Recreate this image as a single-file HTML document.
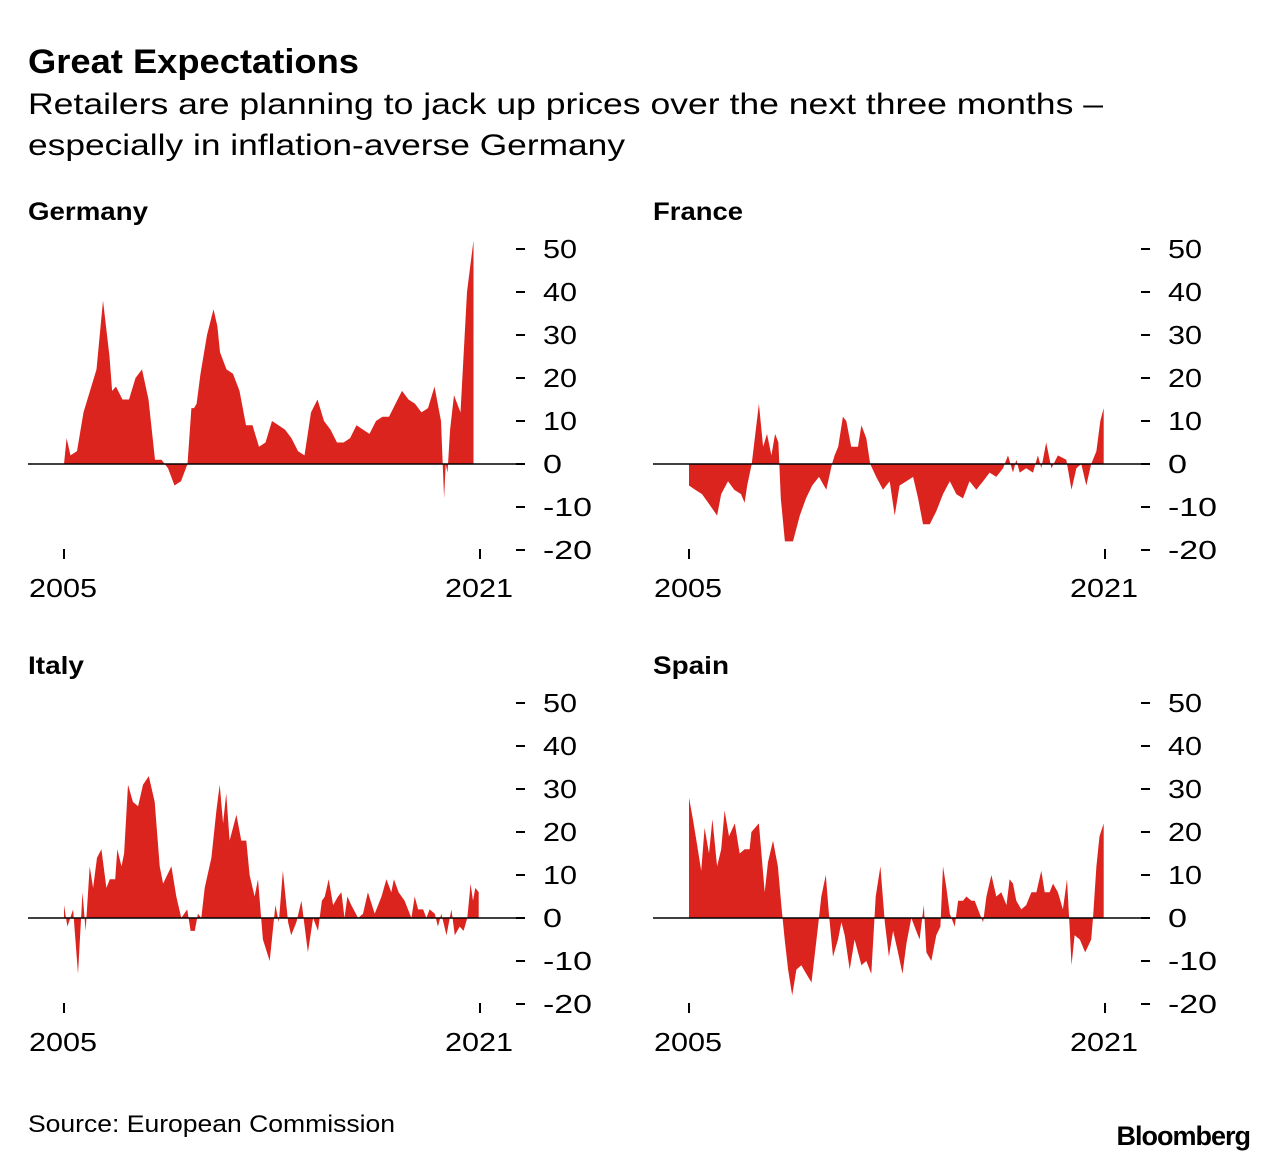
<!DOCTYPE html>
<html><head><meta charset="utf-8"><style>
body{margin:0;background:#fff;width:1278px;height:1162px;overflow:hidden;font-family:"Liberation Sans",sans-serif;}
svg text{font-family:"Liberation Sans",sans-serif;fill:#000;}
</style></head><body>
<svg id="chart" width="1278" height="1162" viewBox="0 0 1278 1162">
<text x="28" y="73" font-size="34" font-weight="bold" textLength="331" lengthAdjust="spacingAndGlyphs">Great Expectations</text>
<text x="28" y="114" font-size="30" textLength="1075" lengthAdjust="spacingAndGlyphs">Retailers are planning to jack up prices over the next three months –</text>
<text x="28" y="155" font-size="30" textLength="597" lengthAdjust="spacingAndGlyphs">especially in inflation-averse Germany</text>
<text x="28" y="1132" font-size="24" textLength="367" lengthAdjust="spacingAndGlyphs">Source: European Commission</text>
<text x="1250" y="1145" font-size="27" font-weight="bold" text-anchor="end" letter-spacing="-1">Bloomberg</text>
</svg>
<script>
const yTicks=[50,40,30,20,10,0,-10,-20];
const yearTicks=[2005,2021];
const deDates=[2005.0,2005.1,2005.25,2005.5,2005.75,2006.0,2006.25,2006.5,2006.75,2006.85,2007.0,2007.25,2007.5,2007.75,2008.0,2008.25,2008.5,2008.75,2009.0,2009.25,2009.5,2009.75,2009.9,2010.0,2010.1,2010.25,2010.5,2010.75,2010.9,2011.0,2011.25,2011.5,2011.75,2012.0,2012.25,2012.5,2012.75,2013.0,2013.25,2013.5,2013.75,2014.0,2014.25,2014.5,2014.75,2015.0,2015.25,2015.5,2015.75,2016.0,2016.25,2016.5,2016.75,2017.0,2017.25,2017.5,2017.75,2018.0,2018.25,2018.5,2018.75,2019.0,2019.25,2019.5,2019.62,2019.68,2019.75,2019.85,2020.0,2020.25,2020.5,2020.75,2020.95];
const deValues=[0,6,2,3,12,17,22,38,25,17,18,15,15,20,22,15,1,1,-1,-5,-4,0,13,13,14,21,30,36,32,26,22,21,17,9,9,4,5,10,9,8,6,3,2,12,15,10,8,5,5,6,9,8,7,10,11,11,14,17,15,14,12,13,18,10,-8,0,-2,8,16,12,40,52];
const frDates=[2005.0,2005.24,2005.5,2005.74,2006.08,2006.24,2006.5,2006.74,2007.0,2007.14,2007.24,2007.41,2007.53,2007.69,2007.85,2008.0,2008.17,2008.31,2008.44,2008.53,2008.69,2009.0,2009.26,2009.5,2009.74,2010.0,2010.28,2010.5,2010.6,2010.74,2010.92,2011.05,2011.24,2011.5,2011.63,2011.82,2011.97,2012.2,2012.46,2012.72,2012.91,2013.1,2013.36,2013.62,2013.81,2014.0,2014.26,2014.51,2014.77,2015.03,2015.28,2015.54,2015.79,2016.05,2016.31,2016.56,2016.82,2017.08,2017.27,2017.46,2017.59,2017.72,2017.97,2018.23,2018.42,2018.55,2018.74,2018.94,2019.19,2019.51,2019.71,2019.9,2020.09,2020.28,2020.47,2020.67,2020.82,2020.95];
const frValues=[-5,-6,-7,-9,-12,-7,-4,-6,-7,-9,-5,0,6,14,4,7,2,7,5,-8,-18,-18,-12,-8,-5,-3,-6,0,2,4,11,10,4,4,9,6,0,-3,-6,-4,-12,-5,-4,-3,-8,-14,-14,-11,-7,-4,-7,-8,-4,-6,-4,-2,-3,-1,2,-2,1,-2,-1,-2,2,-1,5,-1,2,1,-6,-1,0,-5,0,3,10,13];
const itDates=[2005.0,2005.13,2005.35,2005.54,2005.71,2005.83,2005.99,2006.12,2006.27,2006.44,2006.63,2006.76,2006.97,2007.05,2007.21,2007.31,2007.46,2007.65,2007.85,2008.04,2008.26,2008.49,2008.68,2008.81,2009.13,2009.32,2009.51,2009.74,2009.87,2010.03,2010.15,2010.28,2010.41,2010.67,2010.86,2010.99,2011.12,2011.24,2011.37,2011.63,2011.82,2012.01,2012.14,2012.33,2012.46,2012.65,2012.91,2013.13,2013.26,2013.42,2013.62,2013.74,2013.94,2014.13,2014.38,2014.58,2014.77,2014.92,2015.03,2015.18,2015.35,2015.54,2015.67,2015.79,2015.9,2016.05,2016.31,2016.5,2016.69,2016.95,2017.21,2017.4,2017.59,2017.69,2017.87,2018.1,2018.36,2018.49,2018.62,2018.81,2018.94,2019.06,2019.26,2019.38,2019.51,2019.71,2019.9,2020.03,2020.22,2020.37,2020.51,2020.64,2020.73,2020.82,2020.95];
const itValues=[3,-2,2,-13,6,-3,12,7,14,16,7,9,9,16,12,15,31,27,26,31,33,27,12,8,12,5,0,2,-3,-3,1,0,7,14,25,31,22,29,18,24,18,18,10,5,9,-5,-10,3,-1,11,-1,-4,-1,4,-8,0,-3,4,5,9,3,5,6,0,5,3,0,1,6,1,5,9,6,9,6,4,0,5,2,2,0,2,1,-2,1,-4,2,-4,-2,-3,0,8,4,7,6];
const esDates=[2005.0,2005.15,2005.31,2005.47,2005.6,2005.77,2005.9,2006.08,2006.24,2006.37,2006.54,2006.76,2006.95,2007.14,2007.33,2007.4,2007.69,2007.91,2008.04,2008.23,2008.42,2008.55,2008.68,2008.81,2008.97,2009.13,2009.32,2009.51,2009.71,2009.96,2010.09,2010.26,2010.38,2010.54,2010.73,2010.86,2010.99,2011.18,2011.37,2011.63,2011.82,2012.01,2012.18,2012.36,2012.53,2012.69,2012.85,2013.04,2013.21,2013.36,2013.55,2013.74,2013.87,2014.03,2014.13,2014.32,2014.51,2014.67,2014.77,2014.9,2015.03,2015.22,2015.35,2015.54,2015.67,2015.86,2015.99,2016.18,2016.31,2016.44,2016.63,2016.82,2017.01,2017.21,2017.33,2017.46,2017.59,2017.78,2017.97,2018.17,2018.36,2018.55,2018.68,2018.87,2019.0,2019.19,2019.38,2019.54,2019.64,2019.71,2019.83,2020.03,2020.24,2020.47,2020.54,2020.67,2020.79,2020.95];
const esValues=[28,23,17,11,21,15,23,12,16,25,19,22,15,16,16,20,22,6,13,18,12,3,-5,-12,-18,-12,-11,-13,-15,-2,5,10,1,-9,-5,-1,-4,-12,-5,-11,-10,-13,5,12,-1,-9,-3,-8,-13,-6,0,-3,-5,3,-8,-10,-4,-2,12,7,1,-2,4,4,5,4,4,1,-1,5,10,5,6,3,9,8,4,2,3,6,6,11,6,6,8,6,2,9,-2,-11,-4,-5,-8,-5,0,12,19,22];
const panels=[
 {name:"Germany",key:"germany",x0:28,top:0,tw:120,dates:deDates,values:deValues},
 {name:"France",key:"france",x0:653,top:0,tw:90,dates:frDates,values:frValues},
 {name:"Italy",key:"italy",x0:28,top:454,tw:56,dates:itDates,values:itValues},
 {name:"Spain",key:"spain",x0:653,top:454,tw:76,dates:esDates,values:esValues}];
const NS="http://www.w3.org/2000/svg";
const svg=document.getElementById('chart');
function mk(tag,attrs,parent){const e=document.createElementNS(NS,tag);for(const k in attrs)e.setAttribute(k,attrs[k]);(parent||svg).appendChild(e);return e;}
panels.forEach(p=>{
  const g=mk('g',{});
  
  
  const xs=d=>p.x0+36+(d-2005)*(416/16);
  const ys=v=>p.top+464-v*4.3;
  const t=mk('text',{x:p.x0,y:p.top+220,'font-size':25,'font-weight':'bold',textLength:p.tw,lengthAdjust:'spacingAndGlyphs'},g);
  t.textContent=p.name;
  
  
  const n=Math.min(p.dates.length,p.values.length);
  let d='M'+xs(p.dates[0])+','+ys(0);
  for(let i=0;i<n;i++)d+='L'+xs(p.dates[i]).toFixed(1)+','+ys(p.values[i]).toFixed(1);
  d+='L'+xs(p.dates[n-1])+','+ys(0)+'Z';
  const a=mk('path',{d:d,fill:'#dc241f'},g);
  
  
  const z=mk('line',{x1:p.x0,x2:p.x0+497,y1:ys(0),y2:ys(0),stroke:'#000','stroke-width':1.5},g);
  
  
  yTicks.forEach(v=>{
    const tk=mk('line',{x1:p.x0+488,x2:p.x0+497,y1:ys(v),y2:ys(v),stroke:'#000','stroke-width':2},g);
    
    
    const s=String(v);
    const lb=mk('text',{x:p.x0+515,y:ys(v)+9,'font-size':26,textLength:(s.length===2?34:s.length*15+4),lengthAdjust:'spacingAndGlyphs'},g);
    lb.textContent=s;
    
    
  });
  yearTicks.forEach(yr=>{
    const tk=mk('line',{x1:xs(yr),x2:xs(yr),y1:p.top+549,y2:p.top+559,stroke:'#000','stroke-width':2},g);
    
    
    const lb=mk('text',{x:xs(yr)-35,y:p.top+597,'font-size':26,textLength:68,lengthAdjust:'spacingAndGlyphs'},g);
    lb.textContent=String(yr);
    
    
  });
});
</script>
</body></html>
